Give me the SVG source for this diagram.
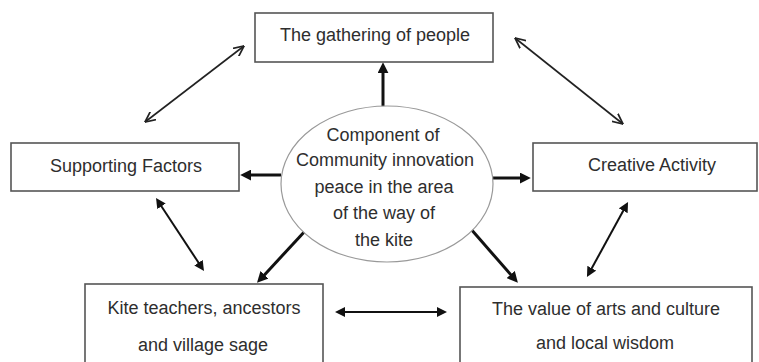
<svg xmlns="http://www.w3.org/2000/svg" width="759" height="362" viewBox="0 0 759 362">
<style>
.box{fill:#fff;stroke:#555;stroke-width:1.6}
.ell{fill:#fff;stroke:#999;stroke-width:1.2}
.t{font-family:"Liberation Sans",Arial,sans-serif;font-size:18px;fill:#2e2e2e;text-anchor:middle}
.thick{stroke:#111;stroke-width:3;fill:none}
.med{stroke:#111;stroke-width:2;fill:none}
.thin{stroke:#222;stroke-width:1.6;fill:none}
</style>
<defs>
<marker id="ah" viewBox="0 0 10 10" markerWidth="11" markerHeight="11" refX="2" refY="5" orient="auto-start-reverse" markerUnits="userSpaceOnUse"><path d="M0,0 L10,5 L0,10 z" fill="#111"/></marker>
<marker id="ah2" viewBox="0 0 10 10" markerWidth="10" markerHeight="10" refX="2" refY="5" orient="auto-start-reverse" markerUnits="userSpaceOnUse"><path d="M0,0 L10,5 L0,10 z" fill="#111"/></marker>
<marker id="open" viewBox="0 0 10 10" markerWidth="11" markerHeight="11" refX="9.5" refY="5" orient="auto-start-reverse" markerUnits="userSpaceOnUse"><path d="M0,0.5 L9.5,5 L0,9.5" fill="none" stroke="#222" stroke-width="1.6"/></marker>
</defs>
<rect width="759" height="362" fill="#fff"/>
<g id="connectors">
<line class="thick" x1="383" y1="107" x2="383" y2="71" marker-end="url(#ah)"/>
<line class="thick" x1="281" y1="175" x2="249" y2="175" marker-end="url(#ah)"/>
<line class="thick" x1="492" y1="178" x2="522" y2="178" marker-end="url(#ah)"/>
<line class="thick" x1="306" y1="230" x2="263" y2="276.4" marker-end="url(#ah)"/>
<line class="thick" x1="470" y1="228" x2="512.1" y2="276.2" marker-end="url(#ah)"/>
<line class="med" x1="160.4" y1="204.7" x2="199.6" y2="264.3" marker-start="url(#ah2)" marker-end="url(#ah2)"/>
<line class="med" x1="624.2" y1="209" x2="590.8" y2="270" marker-start="url(#ah2)" marker-end="url(#ah2)"/>
<line class="med" x1="343" y1="312" x2="439" y2="312" marker-start="url(#ah2)" marker-end="url(#ah2)"/>
<line class="thin" x1="145" y1="122" x2="244" y2="46" marker-start="url(#open)" marker-end="url(#open)"/>
<line class="thin" x1="515" y1="38" x2="623" y2="124" marker-start="url(#open)" marker-end="url(#open)"/>
</g>
<g id="center">
<ellipse class="ell" cx="387" cy="184" rx="106" ry="78"/>
<text class="t" x="383" y="141">Component of</text>
<text class="t" x="385" y="166">Community innovation</text>
<text class="t" x="384" y="193">peace in the area</text>
<text class="t" x="384" y="219">of the way of</text>
<text class="t" x="384" y="246">the kite</text>
</g>
<g id="gathering">
<rect class="box" x="255" y="13" width="238" height="49"/>
<text class="t" x="375" y="41">The gathering of people</text>
</g>
<g id="supporting">
<rect class="box" x="11" y="143" width="228" height="48"/>
<text class="t" x="126" y="172">Supporting Factors</text>
</g>
<g id="creative">
<rect class="box" x="533" y="143" width="224" height="48"/>
<text class="t" x="652" y="171">Creative Activity</text>
</g>
<g id="kite">
<rect class="box" x="85" y="284" width="238" height="92"/>
<text class="t" x="204" y="314">Kite teachers, ancestors</text>
<text class="t" x="203" y="351">and village sage</text>
</g>
<g id="value">
<rect class="box" x="460" y="287" width="292" height="92"/>
<text class="t" x="606" y="315">The value of arts and culture</text>
<text class="t" x="605" y="349">and local wisdom</text>
</g>
</svg>
